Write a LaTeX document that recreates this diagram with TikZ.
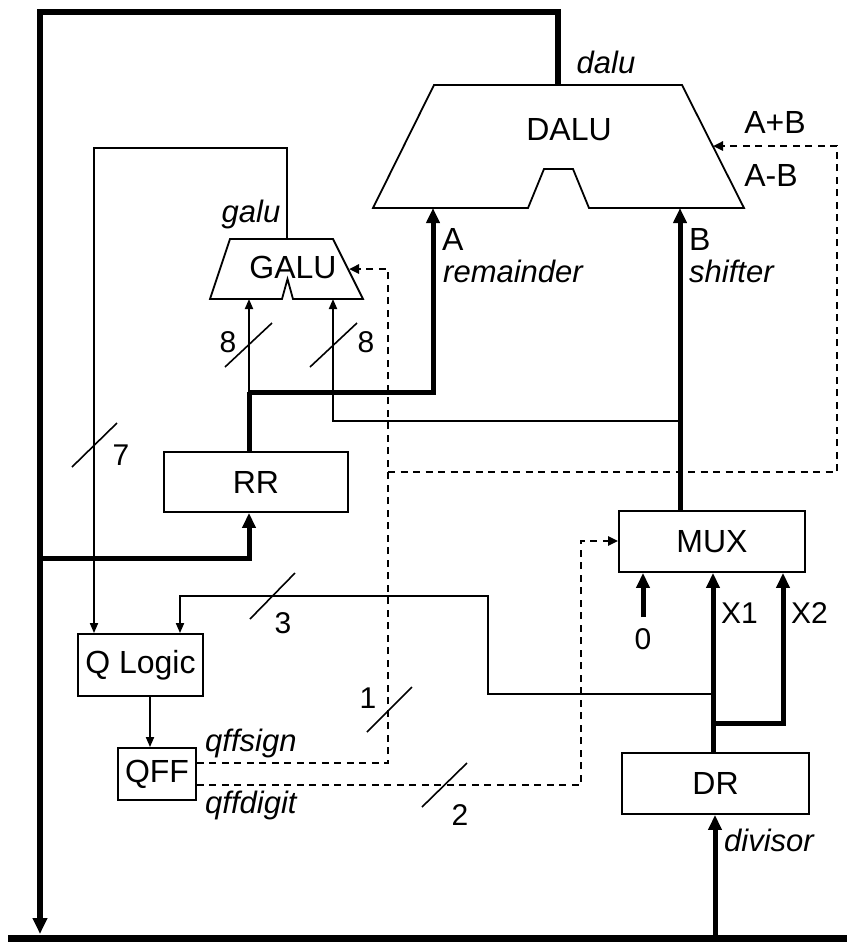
\documentclass[tikz,border=0pt]{standalone}
\usepackage{fontspec}
\setmainfont{Liberation Sans}
\usetikzlibrary{arrows.meta}
\begin{document}
\begin{tikzpicture}[x=1pt,y=-1pt,
  every node/.style={font=\fontsize{32}{38}\selectfont, inner sep=0pt},
  lbl/.style={font=\fontsize{31}{37}\selectfont\itshape},
  num/.style={font=\fontsize{30}{36}\selectfont},
  bus/.style={line width=6pt},
  thk/.style={line width=5pt, -{Triangle[length=15pt,width=13pt]}},
  thkl/.style={line width=5pt},
  thn/.style={line width=1.8pt, -{Triangle[length=10pt,width=8pt]}},
  thnl/.style={line width=1.8pt},
  dsh/.style={line width=2.4pt, dash pattern=on 7pt off 5.5pt, -{Triangle[length=10pt,width=9pt]}},
  dshl/.style={line width=2.4pt, dash pattern=on 7pt off 5.5pt},
  blk/.style={draw, line width=1.8pt, fill=white},
  shp/.style={draw, line width=1.8pt, line join=miter},
  slash/.style={line width=1.6pt}]
\useasboundingbox (0,0) rectangle (847,943);

% ---- coordinates ----
\coordinate (tl) at (40,12);
\coordinate (tr) at (558,12);
\coordinate (dtop) at (558,85);
\coordinate (busend) at (40,934);
\coordinate (bbL) at (8,938);
\coordinate (bbR) at (847,938);

% ---- DALU ----
\draw[shp] (434,85) -- (682,85) -- (744,208) -- (589,208) -- (573,169) -- (544,169) -- (528,208) -- (373,208) -- cycle;
\node (dalu) at (569,130) {DALU};
\coordinate (dA) at (433,208);
\coordinate (dB) at (680,208);
\coordinate (dR) at (713,146);

% ---- GALU ----
\draw[shp] (230,239) -- (333,239) -- (363,299) -- (293,299) -- (287.5,279) -- (282,299) -- (210,299) -- cycle;
\node (galu) at (293,267) {GALU};
\coordinate (gtop) at (287,239);
\coordinate (gL) at (249,299);
\coordinate (gR) at (333,299);
\coordinate (gside) at (349,269);

% ---- boxes ----
\node[blk, minimum width=184pt, minimum height=60pt] (RR) at (256,482) {RR};
\node[blk, minimum width=186pt, minimum height=61pt] (MUX) at (712,541.5) {MUX};
\node[blk, minimum width=187pt, minimum height=61pt] (DR) at (715.5,783.5) {DR};
\node[blk, minimum width=125pt, minimum height=62pt] (QL) at (140.5,665) {Q Logic};
\node[blk, minimum width=78pt, minimum height=52pt] (QFF) at (157,774) {QFF};

% ---- buses ----
\draw[line width=7pt] (bbL) -- (bbR);
\draw[bus, -{Triangle[length=16pt,width=14pt]}] (dtop) -- (tr) -- (tl) -- (busend);

% RR input from left bus
\coordinate (rrin) at (40,558);
\draw[thk] (rrin) -- (249,558) -- (RR.south -| 249,0);
% RR output to A
\coordinate (jA) at (249,392);
\draw[thkl] (RR.north -| 249,0) -- (jA);
\draw[thk] (jA) -- (433,392) -- (dA);
\draw[thn] (jA) -- (gL);
% MUX to B
\draw[thk] (MUX.north -| 680,0) -- (dB);
% shifter to GALU
\coordinate (jB) at (680,421);
\draw[thn] (jB) -- (333,421) -- (gR);

% galu feedback to Q Logic
\draw[thn] (gtop) -- (287,148) -- (94,148) -- (QL.north -| 94,0);
% 3-line
\coordinate (jX) at (713,694);
\draw[thn] (jX) -- (488,694) -- (488,596) -- (180,596) -- (QL.north -| 180,0);
% Q Logic to QFF
\draw[thn] (QL.south -| 150,0) -- (QFF.north -| 150,0);

% dashed control lines
\draw[dsh] (QFF.east |- 0,763) -- (388,763) -- (388,269) -- (gside);
\draw[dsh] (388,472) -- (837,472) -- (837,146) -- (dR);
\draw[dsh] (QFF.east |- 0,785) -- (581,785) -- (581,541) -- (MUX.west |- 0,541);

% DR, MUX inputs
\draw[thk] (bbR -| 715,0) ++(0,-3) -- (DR.south -| 715,0);
\draw[thk] (DR.north -| 713,0) -- (MUX.south -| 713,0);
\draw[thk] (713,723) -- (783,723) -- (MUX.south -| 783,0);
\draw[thk] (643,617) -- (MUX.south -| 643,0);

% ---- bus width slashes ----
\draw[slash] (225,367) -- (272,323);
\draw[slash] (310,367) -- (357,323);
\draw[slash] (72,467) -- (117,423);
\draw[slash] (250,619) -- (295,573);
\draw[slash] (367,732) -- (412,687);
\draw[slash] (422,807) -- (467,763);

% ---- labels ----
\node[num] (n8a) at (228,342) {8};
\node[num] (n8b) at (366,342) {8};
\node[num] (n7) at (121,455) {7};
\node[num] (n3) at (283,623) {3};
\node[num] (n1) at (368,698) {1};
\node[num] (n2) at (460,815) {2};
\node[num] (n0) at (643,639) {0};
\node[num, anchor=west] (lx1) at (721,613) {X1};
\node[num, anchor=west] (lx2) at (791,613) {X2};
\node[lbl] (ldalu) at (606,62) {dalu};
\node[lbl] (lgalu) at (251,214) {galu};
\node (lapb) at (775,122) {A+B};
\node (lamb) at (771,175) {A-B};
\node[anchor=west] (lA) at (442,239) {A};
\node[lbl, anchor=west] (lrem) at (443,271) {remainder};
\node[anchor=west] (lB) at (689,239) {B};
\node[lbl, anchor=west] (lshf) at (689,271) {shifter};
\node[lbl, anchor=west] (lsign) at (205,743) {qffsign};
\node[lbl, anchor=west] (ldigit) at (205,805) {qffdigit};
\node[lbl, anchor=west] (ldiv) at (724,840) {divisor};
\end{tikzpicture}
\end{document}
